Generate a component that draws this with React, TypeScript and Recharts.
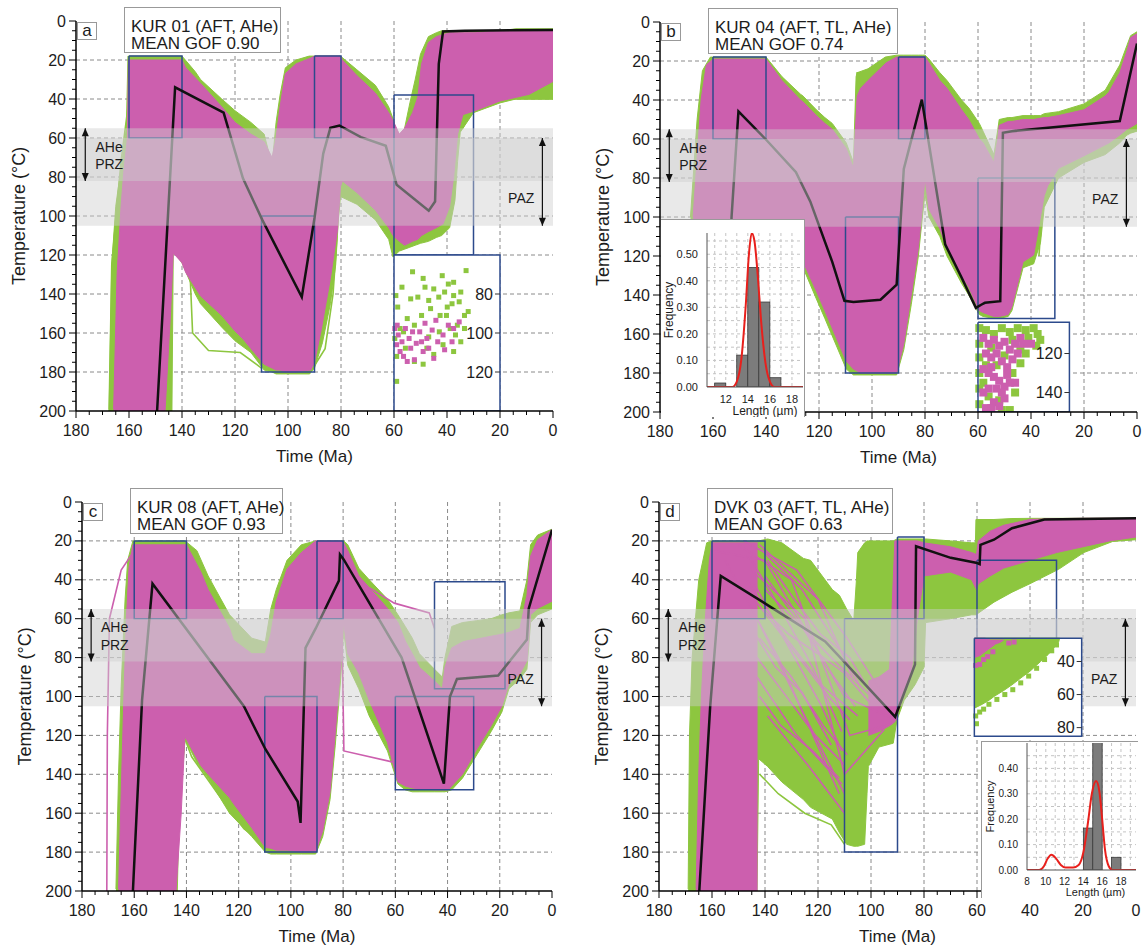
import React from "react";
import { ComposedChart, Area, Line, Scatter, Bar, XAxis, YAxis, CartesianGrid } from "recharts";

const FONT = "'Liberation Sans', Arial, Helvetica, sans-serif";
const GREEN = "#8dc63f";
const MAGENTA = "#cc5fae";
const BLUE = "#2c4a8c";
const INK = "#1c1c1c";

// axes: time (Ma) and temperature (°C)
const timeTicks = [0, 5, 10, 15, 20, 25, 30, 35, 40, 45, 50, 55, 60, 65, 70, 75, 80, 85, 90, 95, 100, 105, 110, 115, 120, 125, 130, 135, 140, 145, 150, 155, 160, 165, 170, 175, 180];
const timeLabels = [180, 160, 140, 120, 100, 80, 60, 40, 20, 0];
const tempTicks = [0, 5, 10, 15, 20, 25, 30, 35, 40, 45, 50, 55, 60, 65, 70, 75, 80, 85, 90, 95, 100, 105, 110, 115, 120, 125, 130, 135, 140, 145, 150, 155, 160, 165, 170, 175, 180, 185, 190, 195, 200];
const tempLabels = [0, 20, 40, 60, 80, 100, 120, 140, 160, 180, 200];
const timeGrid = [20, 40, 60, 80, 100, 120, 140, 160];
const tempGrid = [20, 40, 60, 80, 100, 120, 140, 160, 180];

// AHe partial retention zone / AFT partial annealing zone
const przBand = [55, 82];
const pazBand = [60, 105];
const przArrow = [[176.5, 55], [176.5, 82]];
const pazArrow = [[4, 60], [4, 105]];
const zoneText = [[167.5, 64.5, "AHe"], [167.5, 73.5, "PRZ"], [12, 91, "PAZ"]];

// ---- a: KUR 01 ---- envelopes as [time, top T, bottom T]
const aGreen = [
  [167.5, 199, 200], [166.5, 125, 200], [165, 95, 200], [162.5, 70, 200], [161, 55, 200], [160.4, 18, 200], [143.8, 18, 200],
  [143.3, 18, 118], [140, 18, 124], [135, 26, 140], [133, 30, 145], [125, 40, 157], [120, 46, 164], [114, 52, 170], [109, 58, 179],
  [106, 74, 180], [104.5, 52, 181], [103, 38, 181], [101, 24, 181], [97, 20, 181], [92, 18, 181], [90, 18, 178], [87, 18, 165],
  [84, 18, 145], [82, 18, 125], [81, 18, 102], [80.2, 18, 90], [74, 25, 94], [67, 33, 102], [62, 44, 112], [60.4, 50, 121],
  [58, 62, 118], [56, 55, 117], [54, 42, 116], [52, 30, 115], [50, 17, 114], [47, 8, 113], [44, 6, 111], [42, 5, 110], [39, 5, 106],
  [37, 5, 92], [36, 5, 72], [35, 5, 57], [30, 5, 47], [20, 5, 42], [14, 4, 40], [0, 4, 40],
];
const aMagenta = [
  [165.8, 199, 200], [164.5, 130, 200], [163, 95, 200], [162, 78, 200], [160.6, 60, 200], [160.2, 20, 200], [146.4, 20, 200],
  [144.3, 20, 149], [143.3, 20, 119], [140, 20, 124], [138.6, 24, 129], [133, 32, 141], [125, 44, 151], [120, 52, 159], [117, 55, 163],
  [114, 58, 168], [109, 62, 176], [106, 70, 178], [104.5, 60, 179], [103, 44, 179], [101, 27, 180], [97, 22, 180], [91.4, 19, 179],
  [90, 18, 175], [87.4, 18, 158], [84, 18, 132], [81.3, 18, 107], [80.2, 18, 85], [79.5, 20, 82], [74, 28, 88], [67, 37, 97],
  [62, 47, 106], [60.4, 51, 110], [58, 58, 113], [56, 55, 115], [53, 47, 113], [51, 39, 112], [49.6, 22, 110], [47, 11, 108],
  [44, 8, 106], [41.5, 7, 104], [39, 6, 95], [37.5, 6, 80], [36, 6, 58], [34, 6, 48], [29.4, 6, 46], [20, 5, 41], [9, 5, 37.6], [0, 5, 31],
];
const aGreenPaths = [
  [[143.5, 112], [137, 128], [136, 160], [130, 169], [118, 170], [110, 178]],
  [[167.5, 200], [166.5, 125], [163, 72], [160, 40]],
  [[92, 181], [86, 168], [83, 140], [81.5, 110]],
  [[34, 55], [30, 40], [20, 40], [0, 40]],
];
const aBest = [
  [149.4, 200], [142.6, 34], [124.3, 47], [117, 80.7], [109.7, 102], [94.8, 141.6], [90, 101], [86.7, 68], [84, 54.8], [80.6, 53.6],
  [72.5, 59.6], [63.1, 64], [59, 84], [46.9, 97.3], [44.5, 92.6], [43.1, 22], [41.5, 5.4], [33.4, 5], [0, 4.6],
];
const aBoxes = [[160, 140, 18, 60], [110, 90, 100, 180], [90, 80, 18, 60], [60, 30, 38, 120]];
const aZoomFrame = [60, 20, 120, 200];
const aZoomGreen = [
  [59.3, 140.8], [58.6, 146.7], [57, 136.5], [53, 128.6], [49, 132], [48.3, 136.5], [45, 137.4], [41.8, 130.6], [39.5, 134.9],
  [37.5, 134], [37.5, 140.8], [34.8, 139], [32.8, 128], [39.9, 146.7], [42.6, 151], [46.2, 147.5], [49.6, 151], [52.3, 156],
  [55, 152.6], [57.7, 157.7], [59.7, 162.8], [59, 184.8], [59, 172], [55.7, 167.8], [46.9, 162], [42.9, 159.4], [38.8, 157.7],
  [36.1, 156], [33.4, 151], [34.8, 164.5], [37.5, 169.5], [41.5, 166], [45, 171], [49, 176], [52.3, 174.6], [47.6, 167.8],
  [40.2, 151], [38.1, 145], [35.4, 144], [32, 149], [33.4, 157.7], [36.8, 161], [53.7, 142.5], [51, 141.6], [56.4, 159.4],
  [43.1, 141.6], [40.9, 139], [46.9, 143.3],
];
const aZoomMagenta = [
  [59.7, 157.7], [58.4, 161], [59, 166], [57, 164.5], [55.7, 157.7], [54.3, 162.8], [53.7, 167.8], [51.6, 165.3], [50.3, 159.4],
  [49, 169.5], [47.6, 162.8], [45.6, 158.5], [43.5, 164.5], [41.5, 161], [39.5, 156], [37.5, 157.7], [40.9, 168.6], [56.4, 172],
  [57.7, 169.5], [52.3, 173.7], [46.9, 167.8], [45, 173], [49.6, 164.5], [55, 174.6], [53, 159.4], [48.3, 155], [44.2, 153.5],
  [35.4, 154.3], [38.1, 164.5], [58.8, 156],
];
const aZoomLabels = [[140, "80"], [160, "100"], [180, "120"]];

// ---- b: KUR 04 ----
const bGreen = [
  [168.5, 100, 200], [167.5, 80, 200], [166, 50, 200], [164, 25, 200], [161, 18, 200], [140, 18, 200], [134, 28, 200], [127, 37, 200],
  [126, 38, 126], [121, 45, 142], [117.8, 49, 152], [115, 52, 161], [109.7, 62, 178], [107, 72, 181], [106, 28, 181], [105.6, 26, 181],
  [101.5, 24, 181], [95, 18, 181], [90.7, 17, 181], [88, 17, 168], [85.2, 17, 145], [82.5, 17, 120], [81, 17, 100], [80, 17, 88],
  [78.5, 19, 100], [74.4, 26, 110], [71.7, 30, 120], [66.2, 40, 134], [63.5, 44, 140], [59.5, 52, 150], [58.1, 56, 151], [54, 68, 152],
  [52.5, 55, 152], [52, 50, 152], [48.6, 49, 151], [47.2, 49, 148], [43, 48, 126], [39, 48, 124], [36.4, 48, 113], [35, 47, 95],
  [29.6, 46, 80], [20, 42, 72], [12, 35, 68], [6.5, 22, 62], [3.8, 12, 58], [2.4, 7, 57], [0, 5, 56],
];
const bMagenta = [
  [167.5, 100, 200], [166, 70, 200], [164.5, 40, 200], [162.5, 22, 200], [160, 19, 200], [140, 19, 200], [134, 30, 200], [127, 40, 200],
  [126, 41, 123], [121, 48, 138], [117.8, 52, 148], [115, 55, 157], [109.7, 65, 174], [107, 75, 178], [105.6, 38, 179], [104.3, 34, 180],
  [101.5, 30, 180], [94.7, 21, 180], [90.7, 18, 180], [88, 18, 165], [85.2, 18, 140], [82.5, 18, 116], [81, 18, 95], [80, 18, 80],
  [78.5, 21, 96], [74.4, 30, 106], [71.7, 34, 116], [66.2, 45, 130], [63.5, 50, 136], [59.5, 60, 148], [58.1, 62, 149], [54, 72, 151],
  [52.5, 60, 151], [52, 53, 151], [48.6, 51, 150], [47.2, 51, 146], [43, 50, 123], [39, 50, 119.5], [35, 49, 89], [33.7, 49, 84],
  [29.6, 48, 75], [20, 45, 68.6], [12, 38, 63], [10.6, 36, 62], [6.5, 26, 58], [3.8, 15, 55], [2.4, 8, 54], [0, 6, 52],
];
const bGreenPaths = [
  [[106, 45], [105.6, 26], [98, 26], [95, 30], [90.7, 28]],
  [[88, 26], [82, 31], [75, 38], [68, 46]],
  [[37, 120], [36, 100], [35, 90]],
];
const bBest = [
  [155, 200], [153, 100], [150.4, 45.8], [140.2, 60], [128.7, 77], [123.3, 92], [115, 123], [110.4, 143], [107, 143.6], [96.8, 142.4],
  [90.7, 134.7], [88, 75.4], [81.2, 39.8], [72.4, 114], [66.2, 131], [60.8, 146.6], [58.8, 145], [57.4, 144], [51.6, 143.2],
  [50.6, 56.8], [47.2, 56], [6.5, 50.8], [0, 11],
];
const bBoxes = [[160, 140, 18, 60], [110, 90, 100, 180], [90, 80, 18, 60], [60, 31, 80, 152]];
const bZoomFrame = [60, 25.5, 154, 200];
const bZoomGreen = [
  [59.5, 157], [57, 158], [54, 160], [51, 157], [48, 159], [45, 157], [42, 158], [39, 157], [37.5, 160], [36.5, 163], [41, 162],
  [47, 163], [59.5, 165], [59.5, 172], [59.5, 180], [59.5, 188], [59.5, 196], [58, 185], [56, 192], [51, 199], [48, 199], [52, 194],
  [44, 175], [44, 168], [47, 180], [46, 190], [55, 167], [53, 176], [50, 171], [57, 176], [38, 166], [42, 170],
];
const bZoomMagenta = [
  [58, 162], [56, 165], [54, 163], [52, 166], [50, 164], [48, 168], [46, 165], [57, 170], [55, 172], [53, 170], [51, 174], [49, 177],
  [47, 173], [58, 178], [56, 180], [54, 182], [52, 184], [50, 187], [48, 185], [58, 190], [56, 188], [54, 195], [52, 197], [50, 193],
  [57, 198], [45, 170], [53, 188], [55, 177], [49, 181], [51, 190], [44, 162], [40, 165], [43, 165], [46, 185], [55, 198],
];
const bZoomLabels = [[170, "120"], [190, "140"]];

// ---- c: KUR 08 ----
const cGreen = [
  [167, 199, 200], [166, 140, 200], [165, 95, 200], [163.5, 50, 200], [162.5, 30, 200], [160.5, 20, 200], [143.5, 20, 200],
  [142.8, 20, 160], [140.5, 20, 122], [136, 25, 134], [131.7, 38, 142], [123.5, 58, 160], [115, 70, 172], [109.8, 72, 180],
  [107.7, 55, 181], [105.6, 45, 181], [101.5, 30, 181], [96, 22, 181], [90.5, 20, 181], [87.8, 20, 172], [85, 20, 153], [83, 20, 125],
  [81, 20, 92], [79.8, 20, 66], [78.2, 22, 84], [74, 34, 96], [70, 40, 110], [63, 50, 128], [59, 58, 145], [56.2, 64, 148],
  [53.5, 70, 149], [50.8, 78, 149], [45, 86, 149], [42, 90, 149], [41, 80, 149], [38.4, 64, 148], [34.3, 62, 142], [28.8, 61, 130],
  [23.3, 60, 118], [19.2, 58, 108], [16.5, 57, 96], [12.3, 56, 91], [9.6, 40, 86], [8.2, 22, 62], [5.5, 17, 58], [0, 14, 55],
];
const cMagenta = [
  [166, 199, 200], [165, 150, 200], [164, 102, 200], [163, 60, 200], [162, 34, 200], [160.5, 22, 200], [144, 22, 200], [142, 22, 160],
  [140.6, 22, 121], [140, 22, 122], [134.5, 36, 135.5], [131.7, 45, 140], [123.5, 65, 152], [122, 71, 155], [115, 78, 167.5],
  [109.8, 78, 177.6], [107.7, 68, 178], [105.6, 51, 179], [101.5, 34.5, 179], [96, 26, 180], [90.5, 20, 180], [87.8, 20, 169],
  [85, 20, 149], [83, 20, 118.7], [81, 20, 85], [79.8, 21, 62], [78.2, 25, 78], [74, 38, 88], [70, 44, 101.9], [63, 54.7, 123.7],
  [59, 62, 144], [56.2, 71.5, 146], [53.5, 78, 147], [50.8, 85, 147.5], [45, 92, 148], [42, 96, 148], [41, 85, 148], [39.8, 80, 148],
  [38.4, 75, 146], [34.3, 72, 140], [33, 71.5, 137], [28.8, 70.5, 127], [23.3, 69, 115], [19.2, 68, 105], [16.5, 67, 93.4],
  [12.3, 65, 88.4], [9.6, 48, 81.6], [8.2, 27.8, 58], [5.5, 19.4, 54.7], [0, 14.3, 51],
];
const cGreenPaths = [[[140.5, 122], [138, 131], [128, 150], [118, 168], [110, 176]]];
const cMagentaPaths = [
  [[170.5, 200], [170.3, 120], [169.5, 60], [165, 35], [160, 25]],
  [[80.5, 60], [79.7, 128], [60, 134]],
  [[70, 44], [60.4, 52], [47, 57], [45, 65]],
];
const cBest = [
  [160.5, 200], [157, 101.9], [153, 42], [118, 105], [109.8, 127], [97.4, 154], [96.3, 165], [94.4, 75], [90.5, 65], [81.6, 40.4],
  [81.2, 27], [79.8, 29.5], [57.6, 80], [41.4, 144.8], [39.1, 100.2], [36.4, 91], [20.6, 89.2], [9.6, 70.7], [8.9, 54.7], [0, 14.3],
];
const cBoxes = [[160, 140, 20, 60], [110, 90, 100, 180], [90, 80, 20, 60], [60, 30, 100, 148], [45, 18, 41, 96]];

// ---- d: DVK 03 ----
const dGreen = [
  [169, 199, 200], [168.5, 120, 200], [167.5, 80, 200], [165, 40, 200], [162, 21, 200], [160, 20, 200], [143, 20, 200],
  [142.4, 20, 132], [139, 19, 136], [133.6, 21, 144], [125.5, 29, 153], [122.8, 30, 157], [114.6, 45, 163], [111.9, 48, 170],
  [109.2, 55, 176], [106.5, 61, 177], [105.5, 40, 177], [105, 26, 177], [102.4, 21, 176], [101.5, 20, 150], [101, 20, 136],
  [97, 20, 126], [91.6, 20, 124], [90.2, 19, 112], [87.5, 19, 102], [83.4, 19, 94], [80, 19, 85], [79.4, 19, 62], [70, 20, 60],
  [62, 21, 58], [60.6, 21, 58], [60.4, 9, 58], [53.6, 9, 51.5], [46.8, 8.5, 46.4], [40, 8.4, 42], [29.2, 8.4, 34.6],
  [19.7, 8.4, 26], [8.8, 8.4, 20.3], [0, 8.4, 19.4],
];
const dMagentaColumn = [
  [166, 199, 200], [165, 140, 200], [164, 100, 200], [162.5, 60, 200], [161, 30, 200], [160, 21, 200], [143.2, 21, 200], [142.8, 21, 200],
];
const dMagentaLate = [
  [101, 92, 120], [97, 90, 118], [93, 86, 115], [91, 20, 113], [88, 20, 100], [85, 20, 90], [82.5, 20, 60], [80, 21, 38], [70, 23, 36],
  [62, 26, 40], [60.2, 27, 45], [59.5, 20, 42], [55, 15, 38], [50, 12, 34], [40, 9, 30], [30, 8.5, 26], [20, 8.4, 23], [10, 8.4, 20],
  [0, 8.4, 18],
];
// individual magenta paths fanning from the early box towards the 110-90 Ma box
const dMagentaPaths = [
  [[160, 25], [140, 30], [110, 100], [91, 112]],
  [[150, 22], [130, 40], [108, 120], [92, 114]],
  [[145, 35], [125, 60], [110, 140], [95, 117]],
  [[142, 22], [120, 50], [107, 90]],
  [[155, 30], [135, 80], [112, 150]],
  [[143, 60], [125, 110], [110, 150]],
  [[140, 45], [115, 80], [100, 100], [90, 112]],
  [[148, 20], [128, 35], [109, 70], [95, 100]],
  [[141, 25], [126, 45], [112, 75], [104, 95]],
  [[143, 90], [128, 120], [111, 145]],
  [[147, 40], [132, 70], [118, 95], [105, 110]],
  [[139, 110], [124, 135], [110, 160]],
  [[144, 50], [130, 75], [116, 100], [108, 112]],
  [[142, 70], [130, 90], [118, 115], [109, 130]],
  [[146, 28], [134, 55], [122, 85], [111, 118]],
  [[140, 38], [127, 62], [114, 90], [106, 105]],
  [[143, 80], [133, 98], [121, 120], [110, 135]],
  [[141, 55], [131, 68], [120, 78], [110, 88], [100, 104]],
  [[145, 65], [136, 85], [126, 98], [115, 125]],
  [[142, 100], [134, 115], [122, 128], [112, 142]],
  [[139, 30], [129, 50], [119, 68], [108, 80], [96, 108]],
  [[144, 42], [137, 60], [128, 82], [119, 104], [111, 128]],
];
const dGreenPaths = [[[142, 140], [135, 150], [125, 160], [115, 166], [110, 176]]];
const dBest = [
  [164.8, 200], [160.7, 105.5], [156.7, 38], [139, 53], [117.3, 71.7], [109.2, 83.5], [90.9, 110.5], [83.4, 83.5], [83, 22.8],
  [69.9, 28.7], [60.4, 31.2], [59, 32], [58.7, 22], [53.6, 19.4], [46.8, 13.5], [34.6, 9], [0, 8.4],
];
const dBoxes = [[160, 140, 20, 60], [110, 90, 60, 180], [90, 80, 18, 60], [60, 30, 30, 120]];
const dZoomFrame = [61, 20.5, 70, 120.5];
const dZoomGreenArea = [
  [61, 70, 106], [58, 70, 104], [55, 70, 101.5], [53.6, 70, 100], [50, 70, 97], [46.8, 70, 94], [43, 70, 90], [40, 70, 87],
  [36, 70, 82], [33.2, 70, 78.5], [31, 70, 75], [29.2, 70, 72], [28.8, 70, 70],
];
const dZoomMagentaArea = [[61, 70, 80], [59, 70, 79], [57, 70, 77], [55, 71, 75], [53, 71, 73], [51, 71, 72], [50, 71, 71]];
const dZoomGreen = [
  [60.5, 110], [60.2, 114], [59, 108], [57.5, 106.5], [55.5, 104], [52.5, 101.5], [49.5, 99], [46.5, 96.5], [43.5, 93],
  [40.5, 89.5], [37.5, 85.5], [34.5, 81], [31.8, 76.5], [30, 73.5],
];
const dZoomMagenta = [[60.5, 84], [59, 83.5], [57.5, 81], [56, 79.5], [54, 77], [48, 72.5], [46, 72]];
const dZoomLabels = [[82, "40"], [99, "60"], [116, "80"]];

// track length histograms (µm, frequency)
const bLenCentres = [10.5, 11.5, 12.5, 13.5, 14.5, 15.5, 16.5, 17.5, 18.5];
const bLenFreq = [0, 0.015, 0, 0.12, 0.45, 0.32, 0.035, 0, 0];
const bLenCurve = [
  [10.3, 0], [12.6, 0], [13, 0.02], [13.4, 0.1], [13.8, 0.3], [14.1, 0.5], [14.35, 0.58], [14.6, 0.55], [14.9, 0.42], [15.2, 0.25],
  [15.6, 0.09], [16, 0.02], [16.4, 0], [19, 0],
];
const dLenCentres = [8.5, 9.5, 10.5, 11.5, 12.5, 13.5, 14.5, 15.5, 16.5, 17.5, 18.5];
const dLenFreq = [0, 0, 0, 0, 0, 0, 0.165, 0.55, 0, 0.05, 0];
const dLenCurve = [
  [8, 0], [9.3, 0], [9.8, 0.015], [10.2, 0.045], [10.6, 0.06], [11.1, 0.045], [11.6, 0.02], [12.1, 0.01], [12.9, 0.01],
  [13.5, 0.02], [14, 0.07], [14.5, 0.19], [14.9, 0.3], [15.35, 0.35], [15.7, 0.31], [16, 0.2], [16.3, 0.08], [16.7, 0.015],
  [17.1, 0], [19.6, 0],
];

const toRange = (rows: number[][]) => rows.map(([t, lo, hi]) => ({ t, r: [lo, hi] }));
const toPts = (rows: any[]) => rows.map(([t, T]) => ({ t, T }));
const toBox = ([t1, t2, T1, T2]: number[]) => toPts([[t1, T1], [t2, T1], [t2, T2], [t1, T2], [t1, T1]]);

function TimeTick(props: any) {
  const { x, y, payload } = props;
  const v = payload.value;
  const major = timeLabels.includes(v);
  return (
    <g>
      <line x1={x} x2={x} y1={y} y2={y + (major ? 7 : 4)} stroke="#000" />
      {major && (
        <text x={x} y={y + 19} textAnchor="middle" dominantBaseline="central" fontSize={16} fontFamily={FONT} fill={INK}>
          {v}
        </text>
      )}
    </g>
  );
}

function TempTick(props: any) {
  const { x, y, payload } = props;
  const v = payload.value;
  const major = tempLabels.includes(v);
  return (
    <g>
      <line x1={x} x2={x - (major ? 7 : 4)} y1={y} y2={y} stroke="#000" />
      {major && (
        <text x={x - 10} y={y} textAnchor="end" dominantBaseline="central" fontSize={16} fontFamily={FONT} fill={INK}>
          {v}
        </text>
      )}
    </g>
  );
}

function XTitle(props: any) {
  const vb = props.viewBox;
  return (
    <text x={vb.x + vb.width / 2} y={vb.y + 45} textAnchor="middle" dominantBaseline="central" fontSize={17} fontFamily={FONT} fill={INK}>
      Time (Ma)
    </text>
  );
}

function YTitle(props: any) {
  const vb = props.viewBox;
  const cx = vb.x + 3;
  const cy = vb.y + vb.height / 2;
  return (
    <text x={cx} y={cy} transform={`rotate(-90 ${cx} ${cy})`} textAnchor="middle" dominantBaseline="central" fontSize={18} fontFamily={FONT} fill={INK}>
      Temperature (°C)
    </text>
  );
}

const square = (fill: string, s: number) => (p: any) => <rect x={p.cx - s / 2} y={p.cy - s / 2} width={s} height={s} fill={fill} />;

const arrowHead = (p: any) => {
  const { cx, cy, payload } = p;
  const h = payload.up ? 8 : -8;
  return <polygon points={`${cx},${cy} ${cx - 3.5},${cy + h} ${cx + 3.5},${cy + h}`} fill="#111" />;
};

const zoneLabel = (p: any) => (
  <text x={p.cx} y={p.cy} textAnchor="middle" dominantBaseline="central" fontSize={14} fontFamily={FONT} fill={INK}>
    {p.payload.label}
  </text>
);

const zoomTick = (p: any) => (
  <g>
    <line x1={p.cx - 5} x2={p.cx} y1={p.cy} y2={p.cy} stroke="#333" />
    <text x={p.cx - 7} y={p.cy} textAnchor="end" dominantBaseline="central" fontSize={16} fontFamily={FONT} fill={INK}>
      {p.payload.label}
    </text>
  </g>
);

function Panel(p: any) {
  const { plot, zoom } = p;
  let layer = 1;
  const nz = () => layer++;
  const axisLine = { stroke: "#000", strokeWidth: 1.5 };
  const heads = [
    { t: przArrow[0][0], T: przArrow[0][1], up: true },
    { t: przArrow[1][0], T: przArrow[1][1], up: false },
    { t: pazArrow[0][0], T: pazArrow[0][1], up: true },
    { t: pazArrow[1][0], T: pazArrow[1][1], up: false },
  ];
  const labels = zoneText.map(([t, T, label]) => ({ t, T, label }));
  const area = (rows: number[][], color: string, key: string) => (
    <Area key={key} data={toRange(rows)} dataKey="r" type="linear" stroke={color} strokeWidth={1}
      fill={color} fillOpacity={1} isAnimationActive={false} zIndex={nz()} />
  );
  const path = (rows: number[][], color: string, key: string) => (
    <Line key={key} data={toPts(rows)} dataKey="T" stroke={color} strokeWidth={1.6} dot={false} isAnimationActive={false} zIndex={nz()} />
  );
  return (
    <>
      <div style={{ position: "absolute", left: plot.left - 70, top: plot.top - 12 }}>
        <ComposedChart width={plot.width + 76} height={plot.height + 62} margin={{ top: 12, right: 6, bottom: 6, left: 10 }}>
          <CartesianGrid stroke="#8a8a8a" strokeDasharray="4 3" horizontalValues={tempGrid} verticalValues={timeGrid} />
          <XAxis type="number" dataKey="t" domain={[0, 180]} reversed allowDataOverflow ticks={timeTicks} interval={0}
            tickLine={false} tickSize={0} tickMargin={0} tick={TimeTick} axisLine={axisLine} height={50} label={<XTitle />} />
          <XAxis xAxisId="top" orientation="top" type="number" domain={[0, 180]} reversed tick={false} tickLine={false}
            axisLine={axisLine} height={0} />
          <YAxis type="number" domain={[0, 200]} reversed allowDataOverflow ticks={tempTicks} interval={0}
            tickLine={false} tickSize={0} tickMargin={0} tick={TempTick} axisLine={axisLine} width={60} label={<YTitle />} />
          <YAxis yAxisId="right" orientation="right" type="number" domain={[0, 200]} reversed tick={false} tickLine={false}
            axisLine={axisLine} width={0} />

          {(p.greenPaths || []).map((rows: number[][], i: number) => path(rows, GREEN, "gp" + i))}
          {p.green.map((rows: number[][], i: number) => area(rows, GREEN, "g" + i))}
          {p.magenta.map((rows: number[][], i: number) => area(rows, MAGENTA, "m" + i))}
          {(p.magentaPaths || []).map((rows: number[][], i: number) => path(rows, MAGENTA, "mp" + i))}
          {p.boxes.map((b: number[], i: number) => (
            <Line key={"bx" + i} data={toBox(b)} dataKey="T" stroke={BLUE} strokeWidth={1.5} dot={false} isAnimationActive={false} zIndex={nz()} />
          ))}
          <Line data={toPts(p.best)} dataKey="T" stroke="#111" strokeWidth={2.5} dot={false} isAnimationActive={false} zIndex={nz()} />

          <Area data={[{ t: 0, r: przBand }, { t: 180, r: przBand }]} dataKey="r" type="linear" stroke="none" fill="#cfcfcf" fillOpacity={0.45} isAnimationActive={false} zIndex={nz()} />
          <Area data={[{ t: 0, r: pazBand }, { t: 180, r: pazBand }]} dataKey="r" type="linear" stroke="none" fill="#cfcfcf" fillOpacity={0.45} isAnimationActive={false} zIndex={nz()} />

          {zoom && (
            <Area data={[{ t: zoom.frame[0], r: [zoom.frame[2], zoom.frame[3]] }, { t: zoom.frame[1], r: [zoom.frame[2], zoom.frame[3]] }]}
              dataKey="r" type="linear" stroke="none" fill="#fff" fillOpacity={1} isAnimationActive={false} zIndex={nz()} />
          )}
          {zoom && zoom.greenArea && area(zoom.greenArea, GREEN, "zg")}
          {zoom && zoom.magentaArea && area(zoom.magentaArea, MAGENTA, "zm")}
          {zoom && (
            <Scatter data={toPts(zoom.green)} dataKey="T" shape={square(GREEN, zoom.dot)} isAnimationActive={false} zIndex={nz()} />
          )}
          {zoom && (
            <Scatter data={toPts(zoom.magenta)} dataKey="T" shape={square(MAGENTA, zoom.dot)} isAnimationActive={false} zIndex={nz()} />
          )}
          {zoom && (
            <Line data={toBox(zoom.frame)} dataKey="T" stroke={BLUE} strokeWidth={1.5} dot={false} isAnimationActive={false} zIndex={nz()} />
          )}
          {zoom && (
            <Scatter data={zoom.labels.map(([T, label]: any) => ({ t: zoom.frame[1], T, label }))} dataKey="T" shape={zoomTick} isAnimationActive={false} zIndex={nz()} />
          )}

          <Line data={toPts(przArrow)} dataKey="T" stroke="#111" strokeWidth={1.2} dot={false} isAnimationActive={false} zIndex={nz()} />
          <Line data={toPts(pazArrow)} dataKey="T" stroke="#111" strokeWidth={1.2} dot={false} isAnimationActive={false} zIndex={nz()} />
          <Scatter data={heads} dataKey="T" shape={arrowHead} isAnimationActive={false} zIndex={nz()} />
          <Scatter data={labels} dataKey="T" shape={zoneLabel} isAnimationActive={false} zIndex={nz()} />
        </ComposedChart>
      </div>
      <div
        style={{
          position: "absolute", left: plot.left + 1, top: plot.top + 1, width: 20, height: 18, boxSizing: "border-box",
          border: "1px solid #999", background: "#fff", fontFamily: FONT, fontSize: 17, lineHeight: "15px", textAlign: "center", color: INK,
        }}
      >
        {p.letter}
      </div>
      <div
        style={{
          position: "absolute", left: plot.left + 48, top: plot.top - 14, width: p.labelWidth, height: 46, boxSizing: "border-box",
          border: "1px solid #999", background: "#fff", fontFamily: FONT, fontSize: 17, lineHeight: "17px", padding: "10px 0 0 6px",
          color: INK, whiteSpace: "nowrap",
        }}
      >
        <div>{p.title}</div>
        <div>MEAN GOF {p.gof}</div>
      </div>
    </>
  );
}

function LengthHist(h: any) {
  const bins = h.centres.map((x: number, i: number) => ({ x, f: h.freqs[i] }));
  const curve = h.curve.map(([x, f]: number[]) => ({ x, f }));
  const plotW = h.width - 1 - h.margin.left - h.margin.right - h.yAxisWidth;
  const binPx = plotW / (h.xDomain[1] - h.xDomain[0]);
  const binShape = (props: any) => {
    if (!props.height || props.height <= 0) return <g />;
    return (
      <rect x={props.x + props.width / 2 - binPx / 2} y={props.y} width={binPx} height={props.height}
        fill="#7c7c7c" stroke="#3a3a3a" strokeWidth={0.8} />
    );
  };
  const HX = (props: any) => {
    const vb = props.viewBox;
    return (
      <text x={vb.x + vb.width / 2 + h.titleShift} y={vb.y + h.xAxisHeight - 6} textAnchor="middle" dominantBaseline="central" fontSize={h.fontSize + 1} fontFamily={FONT} fill={INK}>
        Length (µm)
      </text>
    );
  };
  const HY = (props: any) => {
    const vb = props.viewBox;
    const cx = vb.x + 8;
    const cy = vb.y + vb.height / 2;
    return (
      <text x={cx} y={cy} transform={`rotate(-90 ${cx} ${cy})`} textAnchor="middle" dominantBaseline="central" fontSize={h.fontSize + 1} fontFamily={FONT} fill={INK}>
        Frequency
      </text>
    );
  };
  return (
    <div style={{ position: "absolute", left: h.left, top: h.top, width: h.width, height: h.height, background: "#fff", boxSizing: "border-box", ...h.border }}>
      <ComposedChart width={h.width - 1} height={h.height - 1} data={bins} margin={h.margin} barCategoryGap={0} barGap={0}>
        <CartesianGrid stroke="#c4c4c4" strokeDasharray="3 3" horizontalValues={h.hGrid} verticalValues={h.vGrid} />
        <XAxis type="number" dataKey="x" domain={h.xDomain} ticks={h.xTicks} interval={0} allowDataOverflow tickLine={false} tickMargin={2}
          axisLine={{ stroke: "#555" }} tick={{ fontSize: h.fontSize, fill: INK, fontFamily: FONT }} height={h.xAxisHeight} label={<HX />} />
        <XAxis xAxisId="top" orientation="top" type="number" domain={h.xDomain} tick={false} tickLine={false} axisLine={{ stroke: "#555" }} height={0} />
        <YAxis type="number" domain={h.yDomain} ticks={h.yTicks} interval={0} allowDataOverflow tickLine={false} tickMargin={3}
          tickFormatter={(v: number) => v.toFixed(2)} axisLine={{ stroke: "#555" }} tick={{ fontSize: h.fontSize, fill: INK, fontFamily: FONT }}
          width={h.yAxisWidth} label={<HY />} />
        <Bar dataKey="f" shape={binShape} isAnimationActive={false} />
        <Line data={curve} dataKey="f" type="monotone" stroke="#e8201c" strokeWidth={2} dot={false} isAnimationActive={false} />
      </ComposedChart>
    </div>
  );
}

export default function App() {
  return (
    <div style={{ position: "absolute", left: 0, top: 0, width: 1145, height: 951, background: "#fff", overflow: "hidden" }}>
      <Panel letter="a" title="KUR 01 (AFT, AHe)" gof="0.90" labelWidth={157} plot={{ left: 76, top: 21, width: 477, height: 396 }}
        green={[aGreen]} magenta={[aMagenta]} best={aBest} boxes={aBoxes} greenPaths={aGreenPaths}
        zoom={{ frame: aZoomFrame, green: aZoomGreen, magenta: aZoomMagenta, labels: aZoomLabels, dot: 5 }} />
      <Panel letter="b" title="KUR 04 (AFT, TL, AHe)" gof="0.74" labelWidth={190} plot={{ left: 660, top: 22, width: 477, height: 396 }}
        green={[bGreen]} magenta={[bMagenta]} best={bBest} boxes={bBoxes} greenPaths={bGreenPaths}
        zoom={{ frame: bZoomFrame, green: bZoomGreen, magenta: bZoomMagenta, labels: bZoomLabels, dot: 8 }} />
      <Panel letter="c" title="KUR 08 (AFT, AHe)" gof="0.93" labelWidth={153} plot={{ left: 82, top: 502, width: 470, height: 395 }}
        green={[cGreen]} magenta={[cMagenta]} best={cBest} boxes={cBoxes} greenPaths={cGreenPaths} magentaPaths={cMagentaPaths} />
      <Panel letter="d" title="DVK 03 (AFT, TL, AHe)" gof="0.63" labelWidth={186} plot={{ left: 659, top: 502, width: 477, height: 395 }}
        green={[dGreen]} magenta={[dMagentaColumn, dMagentaLate]} magentaPaths={dMagentaPaths} best={dBest} boxes={dBoxes} greenPaths={dGreenPaths}
        zoom={{ frame: dZoomFrame, green: dZoomGreen, magenta: dZoomMagenta, greenArea: dZoomGreenArea, magentaArea: dZoomMagentaArea, labels: dZoomLabels, dot: 5 }} />
      <LengthHist left={661} top={219} width={144} height={198} border={{ borderTop: "1px solid #999", borderRight: "1px solid #999" }}
        margin={{ top: 13, right: 1, bottom: 0, left: 0 }} yAxisWidth={46} xAxisHeight={30} xDomain={[10.3, 19]} yDomain={[0, 0.58]}
        xTicks={[12, 14, 16, 18]} yTicks={[0, 0.1, 0.2, 0.3, 0.4, 0.5]} hGrid={[0.05, 0.1, 0.15, 0.2, 0.25, 0.3, 0.35, 0.4, 0.45, 0.5, 0.55]}
        vGrid={[11, 12, 13, 14, 15, 16, 17, 18]} centres={bLenCentres} freqs={bLenFreq} curve={bLenCurve} fontSize={11} titleShift={10} />
      <LengthHist left={981} top={741} width={157} height={157} border={{ borderTop: "1px solid #999", borderLeft: "1px solid #999" }}
        margin={{ top: 1, right: 2, bottom: 0, left: 0 }} yAxisWidth={45} xAxisHeight={28} xDomain={[8, 19.6]} yDomain={[0, 0.5]}
        xTicks={[8, 10, 12, 14, 16, 18]} yTicks={[0, 0.1, 0.2, 0.3, 0.4]} hGrid={[0.05, 0.1, 0.15, 0.2, 0.25, 0.3, 0.35, 0.4, 0.45]}
        vGrid={[9, 10, 11, 12, 13, 14, 15, 16, 17, 18, 19]} centres={dLenCentres} freqs={dLenFreq} curve={dLenCurve} fontSize={10} titleShift={14} />
    </div>
  );
}
